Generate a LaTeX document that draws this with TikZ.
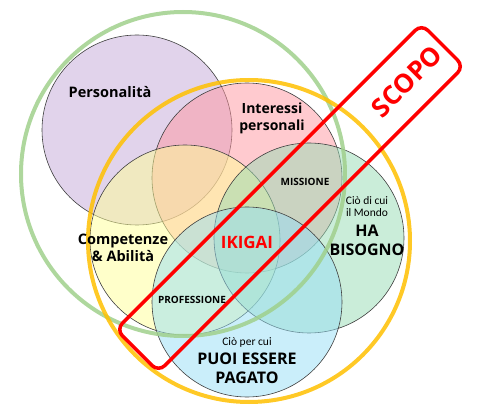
\documentclass[tikz,border=0pt]{standalone}
\usepackage{fontspec}
\setmainfont{Open Sans}
\newfontfamily\calfont{Carlito}
\definecolor{cpurple}{RGB}{195,168,215}
\definecolor{cpink}{RGB}{255,150,160}
\definecolor{cyellow}{RGB}{255,255,150}
\definecolor{cgreen}{RGB}{150,220,180}
\definecolor{cblue}{RGB}{150,222,245}
\definecolor{ringgreen}{RGB}{160,208,140}
\definecolor{ringorange}{RGB}{255,192,0}
\definecolor{scopored}{RGB}{255,0,0}
\begin{document}
\begin{tikzpicture}[x=1pt,y=-1pt,
  venn/.style={circle, draw=black!75, line width=0.6pt, minimum size=190pt, inner sep=0pt, fill opacity=0.5},
  bigring/.style={circle, line width=4pt, inner sep=0pt, draw opacity=0.85},
  lbl/.style={font=\bfseries\fontsize{14.5}{17}\selectfont, align=center, text=black, inner sep=0pt},
  biglbl/.style={font=\bfseries\fontsize{16}{19}\selectfont, align=center, text=black, inner sep=0pt},
  tiny/.style={font=\bfseries\fontsize{10}{12}\selectfont, inner sep=0pt},
  cal/.style={font=\calfont\fontsize{11.5}{12}\selectfont, align=center, inner sep=0pt}]
\useasboundingbox (0,0) rectangle (488,417);
% five circles
\node[venn, fill=cpurple] (pers) at (137,130) {};
\node[venn, fill=cpink] (inter) at (247,178) {};
\node[venn, fill=cyellow] (comp) at (185,240) {};
\node[venn, fill=cgreen] (mondo) at (309,238) {};
\node[venn, fill=cblue] (pagato) at (247,302) {};
% big rings
\node[bigring, draw=ringgreen, minimum size=324pt] (gring) at (183,174) {};
\node[bigring, draw=ringorange, minimum size=322pt] (oring) at (249,241) {};
% scope box with its text at the upper end
\node[draw=scopored, line width=3.5pt, rounded corners=9pt, minimum width=432pt, minimum height=60pt,
      rotate=45, inner sep=0pt, text width=418pt, align=right, text=scopored,
      font=\bfseries\fontsize{26}{28}\selectfont] (scope) at (290,198) {SCOPO};
% labels
\node[lbl] (lpers) at (110,92) {Personalità};
\node[lbl, font=\bfseries\fontsize{14}{17}\selectfont] (linter) at (272,118) {Interessi\\personali};
\node[tiny] (lmiss) at (305,182) {MISSIONE};
\node[cal] (lcio1) at (367,207) {Ciò di cui\\il Mondo};
\node[biglbl] (lha) at (367,240) {HA\\BISOGNO};
\node[lbl] (lcomp) at (123,248) {Competenze\\\& Abilità};
\node[lbl, font=\bfseries\fontsize{17}{19}\selectfont, text=scopored] (likigai) at (247,242) {IKIGAI};
\node[tiny] (lprof) at (192,300) {PROFESSIONE};
\node[cal] (lcio2) at (247,342) {Ciò per cui};
\node[biglbl] (lpuoi) at (247,368) {PUOI ESSERE\\PAGATO};
\end{tikzpicture}
\end{document}
